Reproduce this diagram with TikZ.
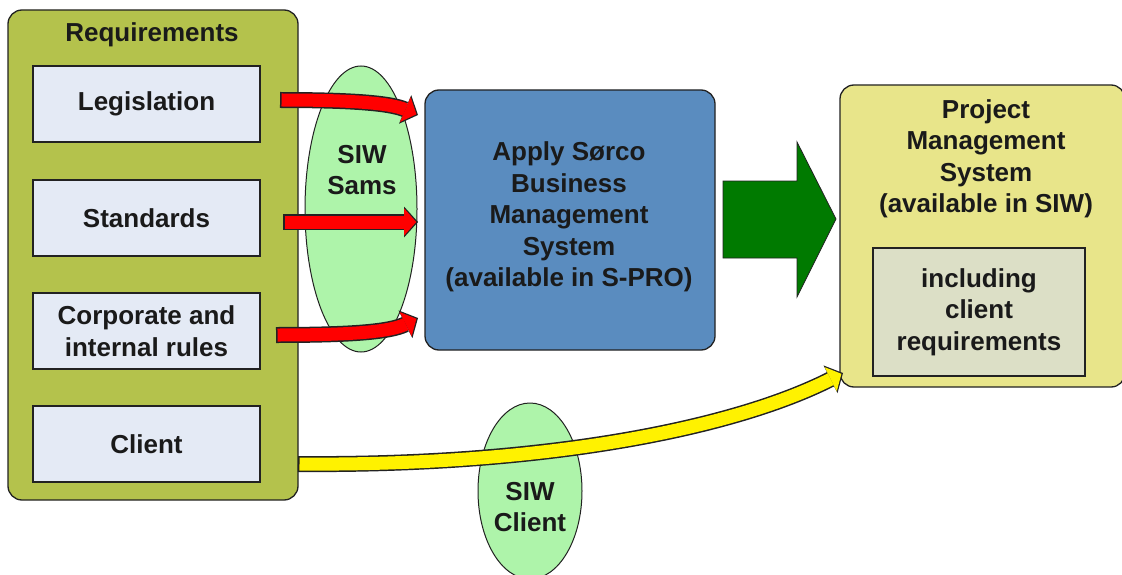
\documentclass[tikz,border=0pt]{standalone}
\usepackage{fontspec}
\setmainfont{Liberation Sans}
\usetikzlibrary{shapes.geometric,arrows.meta}
\definecolor{olive}{HTML}{B4C24C}
\definecolor{paleblue}{HTML}{E4EAF5}
\definecolor{palegreen}{HTML}{AEF4AA}
\definecolor{midblue}{HTML}{5A8CBF}
\definecolor{darkgreen}{HTML}{007A00}
\definecolor{paleyellow}{HTML}{E8E58A}
\definecolor{palegrey}{HTML}{DCDFC6}
\definecolor{outline}{HTML}{222222}
\definecolor{txt}{HTML}{1A1A1A}
\tikzset{
  lbl/.style={font=\fontsize{26}{31.5}\selectfont\bfseries, text=txt, align=center, inner sep=0pt},
  bigbox/.style={draw=outline, line width=1.3pt, rounded corners=14pt, inner sep=0pt},
  itembox/.style={draw=outline, line width=1.3pt, fill=paleblue, minimum width=227pt, minimum height=76pt, inner sep=0pt, lbl},
  bubble/.style={ellipse, draw=outline, line width=1pt, fill=palegreen, inner sep=0pt},
  fat/.style={line width=16pt, draw=outline, -{Triangle[length=14pt,width=31pt,line width=0pt]},
    postaction={draw=#1, line width=13pt, -{Triangle[length=12pt,width=27pt,line width=0pt]}, shorten >=1.8pt, shorten <=1.5pt}}
}
\begin{document}
\begin{tikzpicture}[x=1pt,y=-1pt]
\useasboundingbox (0,0) rectangle (1122,575);
% Requirements column
\node[bigbox, fill=olive, minimum width=290pt, minimum height=490pt] (req) at (153,255) {};
\node[lbl] (reqt) at (152,35) {Requirements};
\node[itembox] (leg) at (146.5,104) {Legislation};
\node[itembox] (std) at (146.5,218) {Standards};
\node[itembox] (corp) at (146.5,331) {Corporate and\\internal rules};
\node[itembox] (cli) at (146.5,444) {Client};
% SIW Sams bubble
\node[bubble, minimum width=112pt, minimum height=286pt] (sams) at (361,209) {};
\node[lbl] (samst) at (362,170) {SIW\\Sams};
% Blue box
\node[bigbox, fill=midblue, minimum width=290pt, minimum height=260pt] (bms) at (570,220) {};
\node[lbl] (bmst) at (569,217) {Apply S\o rco\\Business\\Management\\System\\(available in S-PRO)};
% Yellow box
\node[bigbox, fill=paleyellow, minimum width=285pt, minimum height=302pt] (pms) at (982.5,236) {};
\node[lbl] (pmst) at (986,159) {Project\\Management\\System\\(available in SIW)};
\node[draw=outline, line width=1.3pt, fill=palegrey, minimum width=212pt, minimum height=128pt, inner sep=0pt, lbl] (incl) at (979,312) {including\\client\\requirements};
% Green arrow
\draw[draw=outline, line width=0.8pt, fill=darkgreen] (723,181) -- (797,181) -- (797,142) -- (836,219) -- (797,297) -- (797,258) -- (723,258) -- cycle;
% SIW Client bubble
\node[bubble, minimum width=104pt, minimum height=176pt] (sclient) at (530,491) {};
% Red arrows
\coordinate (r1s) at (280,100);
\coordinate (r1e) at (418,115);
\coordinate (r2s) at (283,222);
\coordinate (r2e) at (418,222);
\coordinate (r3s) at (276,335);
\coordinate (r3e) at (418,318);
\draw[fat=red] (r1s) .. controls (350,100) and (390,103) .. (r1e);
\draw[fat=red] (r2s) -- (r2e);
\draw[fat=red] (r3s) .. controls (350,335) and (390,332) .. (r3e);
% Yellow arrow
\coordinate (ys) at (298,464);
\coordinate (ye) at (843,373);
\draw[fat=yellow] (ys) .. controls (540,466) and (730,430) .. (ye);
\node[lbl] (sclientt) at (530,507) {SIW\\Client};
\end{tikzpicture}
\end{document}
